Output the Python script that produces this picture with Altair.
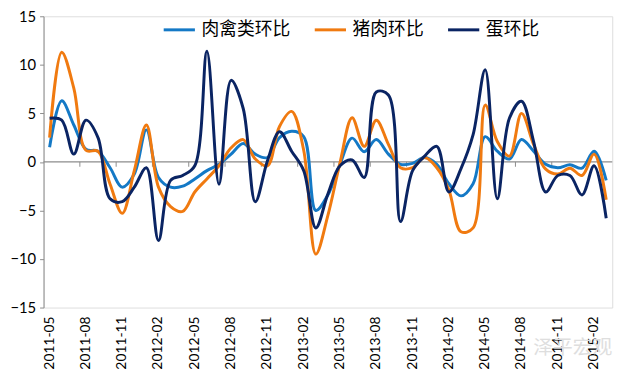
import altair as alt
import pandas as pd

months = [
    "2011-05", "2011-06", "2011-07", "2011-08", "2011-09", "2011-10", "2011-11", "2011-12",
    "2012-01", "2012-02", "2012-03", "2012-04", "2012-05", "2012-06", "2012-07", "2012-08",
    "2012-09", "2012-10", "2012-11", "2012-12", "2013-01", "2013-02", "2013-03", "2013-04",
    "2013-05", "2013-06", "2013-07", "2013-08", "2013-09", "2013-10", "2013-11", "2013-12",
    "2014-01", "2014-02", "2014-03", "2014-04", "2014-05", "2014-06", "2014-07", "2014-08",
    "2014-09", "2014-10", "2014-11", "2014-12", "2015-01", "2015-02", "2015-03",
]

meat = [1.5, 6.3, 3.8, 1.3, 1.1, -0.6, -2.6, -1.25, 3.3, -1.6, -2.6, -2.5,
        -1.75, -0.9, -0.25, 0.8, 1.9, 0.8, 0.45, 2.5, 3.15, 2.6, -5.0, -3.4,
        -0.25, 2.45, 1.05, 2.3, 0.8, -0.25, -0.15, 0.45, -0.25, -2.25, -3.5, -2.25,
        2.6, 1.1, 0.3, 2.3, 1.1, -0.25, -0.6, -0.3, -0.65, 1.1, -1.9]

pork = [2.5, 11.3, 7.6, 1.2, 1.1, -2.3, -5.3, -0.9, 3.8, -2.6, -4.6, -5.1,
        -3.1, -1.75, -0.4, 1.45, 2.3, 0.3, -0.4, 3.65, 5.2, 1.2, -9.5, -5.5,
        -0.1, 4.55, 1.6, 4.3, 1.8, -0.6, -0.6, 0.45, -0.6, -2.9, -7.2, -6.8,
        5.85, 2.1, 0.6, 5.0, 1.8, -0.75, -1.25, -0.65, -1.4, 0.8, -3.9]

egg = [4.5, 4.3, 0.8, 4.3, 2.5, -3.8, -4.1, -2.6, -0.6, -8.1, -1.9, -1.4,
       -0.4, 11.4, -2.3, 8.4, 5.5, -4.1, 0.1, 3.1, 1.1, -0.9, -6.8, -3.3,
       -0.4, 0.2, -1.6, 7.2, 6.9, -6.15, -0.9, 0.6, 1.6, -3.1, -0.7, 2.8,
       9.5, -3.8, 4.5, 6.25, 2.1, -3.1, -1.4, -1.4, -3.4, -0.4, -5.8]

series_names = ["肉禽类环比", "猪肉环比", "蛋环比"]
colors = ["#1479C6", "#F07A10", "#0A2463"]
y_ticks = [-15, -10, -5, 0, 5, 10, 15]
label_idx = list(range(0, len(months), 3))
tick_bounds = [k - 0.5 for k in range(3, len(months), 3)]

rows = []
for s_i, (name, vals) in enumerate(zip(series_names, [meat, pork, egg])):
    for i, (m, v) in enumerate(zip(months, vals)):
        rows.append({"idx": i, "month": m, "series": name, "value": v, "order": s_i})
df = pd.DataFrame(rows)

labels_df = pd.DataFrame({"idx": label_idx, "month": [months[i] for i in label_idx]})

x_scale = alt.Scale(domain=[-0.5, len(months) - 0.5], nice=False, zero=False)
y_scale = alt.Scale(domain=[-15, 15], nice=False)

lines = alt.Chart(df).mark_line(strokeWidth=3, interpolate="catmull-rom").encode(
    x=alt.X("idx:Q", scale=x_scale,
            axis=alt.Axis(labels=False, domain=False, ticks=False, grid=False, title=None)),
    y=alt.Y("value:Q", scale=y_scale,
            axis=alt.Axis(values=y_ticks, grid=False, domainColor="#8c8c8c", tickColor="#8c8c8c",
                          tickSize=4, labelFont="Lato", labelFontSize=15, labelPadding=4,
                          labelColor="black", title=None)),
    color=alt.Color("series:N", scale=alt.Scale(domain=series_names, range=colors),
                    legend=alt.Legend(orient="none", legendX=120, legendY=-4, direction="horizontal",
                                      title=None, symbolType="stroke", symbolStrokeWidth=3,
                                      symbolSize=1000, labelFont="Noto Sans CJK SC",
                                      labelFontSize=18, labelColor="black",
                                      columnPadding=18, labelOffset=5)),
    order=alt.Order("order:Q"),
)

x_labels = alt.Chart(labels_df).mark_text(
    font="Lato", fontSize=14, color="black", angle=270, align="right", baseline="middle"
).encode(x=alt.X("idx:Q", scale=x_scale), y=alt.value(304), text="month:N")

zero_line = alt.Chart(pd.DataFrame({"y": [0]})).mark_rule(color="#8c8c8c", strokeWidth=1.2).encode(
    y=alt.Y("y:Q", scale=y_scale)
)

ticks = alt.Chart(pd.DataFrame({"b": tick_bounds})).mark_rule(color="#8c8c8c").encode(
    x=alt.X("b:Q", scale=x_scale),
    y=alt.datum(0),
    y2=alt.datum(-0.5),
)

watermark = alt.Chart(pd.DataFrame({"t": ["泽平宏观"]})).mark_text(
    font="Noto Sans CJK SC", fontSize=20, color="#dedede", align="center", baseline="middle"
).encode(text="t:N", x=alt.value(536), y=alt.value(336))

chart = alt.layer(zero_line, ticks, lines, x_labels, watermark).properties(
    width=576, height=295,
    autosize=alt.AutoSizeParams(type="none"),
    padding={"left": 36, "top": 6, "right": 20, "bottom": 70},
).configure_view(stroke=None).configure(background="white")

chart.save("out.html", embed_options={"renderer": "svg", "actions": False})
